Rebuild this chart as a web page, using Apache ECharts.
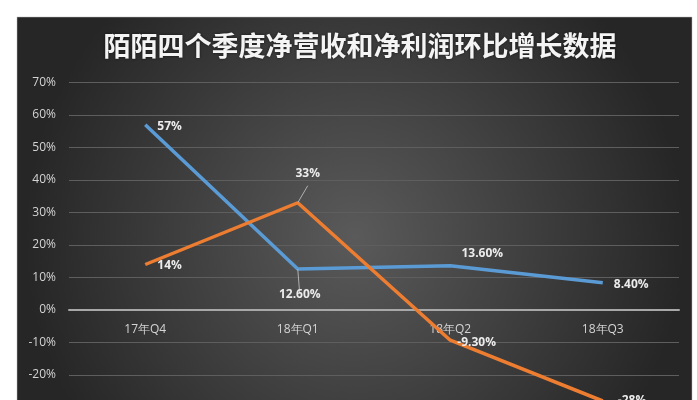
<!DOCTYPE html>
<html><head><meta charset="utf-8">
<script src="https://cdn.jsdelivr.net/npm/echarts@6/dist/echarts.min.js"></script>
<style>html,body{margin:0;padding:0;background:#fff;overflow:hidden;}#c{width:697px;height:440px;}</style>
</head><body><div id="c"></div>
<script>
const categories = ['17年Q4', '18年Q1', '18年Q2', '18年Q3'];
const revenueGrowth = [57, 12.6, 13.6, 8.4];
const revenueLabels = ['57%', '12.60%', '13.60%', '8.40%'];
const profitGrowth = [14, 33, -9.3, -28];
const profitLabels = ['14%', '33%', '-9.30%', '-28%'];

const labelStyle = {color: '#ececec', fontSize: 12, fontWeight: 'bold', fontFamily: 'Open Sans, sans-serif'};
const revPos = [
  {position: 'right', offset: [7, 2]},
  {position: 'bottom', offset: [2, 14]},
  {position: 'top', offset: [32, -1]},
  {position: 'right', offset: [6, 2]}
];
const profPos = [
  {position: 'right', offset: [7, 1]},
  {position: 'top', offset: [10, -18]},
  {position: 'right', offset: [2, 2]},
  {position: 'right', offset: [10, 0]}
];
const leader = {show: true, lineStyle: {color: '#b0b0b0', width: 1}};

const chart = echarts.init(document.getElementById('c'));
chart.setOption({
  backgroundColor: '#ffffff',
  animation: false,
  graphic: [{
    type: 'rect', z: -10, silent: true,
    shape: {x: 17, y: 17, width: 675, height: 440},
    style: {
      fill: {type: 'radial', x: 0.5, y: 0.5, r: 0.75,
        colorStops: [{offset: 0, color: '#5a5a5a'}, {offset: 1, color: '#262626'}]},
      stroke: '#bbbbbb', lineWidth: 0.5
    }
  }],
  title: {
    text: '陌陌四个季度净营收和净利润环比增长数据',
    left: 355, top: 27, textAlign: 'center',
    textStyle: {color: '#f4f4f4', fontSize: 27, fontWeight: 'bold',
      fontFamily: 'Noto Sans CJK SC', textShadowColor: 'rgba(0,0,0,0.6)', textShadowBlur: 3}
  },
  grid: {left: 69, right: 18, top: 82.5, bottom: 32.5, containLabel: false},
  xAxis: {
    type: 'category', data: categories, boundaryGap: true,
    axisLine: {onZero: true, lineStyle: {color: '#a8a8a8', width: 2}},
    axisTick: {show: false},
    axisLabel: {color: '#d4d4d4', fontSize: 12, margin: -84, fontFamily: 'Open Sans, sans-serif'}
  },
  yAxis: {
    type: 'value', min: -30, max: 70, interval: 10,
    axisLine: {show: false}, axisTick: {show: false},
    axisLabel: {color: '#d4d4d4', fontSize: 12, margin: 13, formatter: v => v + '%',
      fontFamily: 'Open Sans, sans-serif'},
    splitLine: {lineStyle: {color: '#5e5e5e', width: 1}}
  },
  series: [
    {
      name: '净营收', type: 'line', data: revenueGrowth.map((v, i) => ({
        value: v, label: Object.assign({show: true, formatter: revenueLabels[i]}, labelStyle, revPos[i]),
        labelLine: i === 1 ? leader : {show: false}
      })),
      symbol: 'circle', symbolSize: 0.1, showSymbol: true,
      lineStyle: {color: '#5b9bd5', width: 3.5}, itemStyle: {color: '#5b9bd5'}, z: 3
    },
    {
      name: '净利润', type: 'line', data: profitGrowth.map((v, i) => ({
        value: v, label: Object.assign({show: true, formatter: profitLabels[i]}, labelStyle, profPos[i]),
        labelLine: i === 1 ? leader : {show: false}
      })),
      symbol: 'circle', symbolSize: 0.1, showSymbol: true,
      lineStyle: {color: '#ed7d31', width: 3.5}, itemStyle: {color: '#ed7d31'}, z: 4
    }
  ]
});
</script></body></html>
